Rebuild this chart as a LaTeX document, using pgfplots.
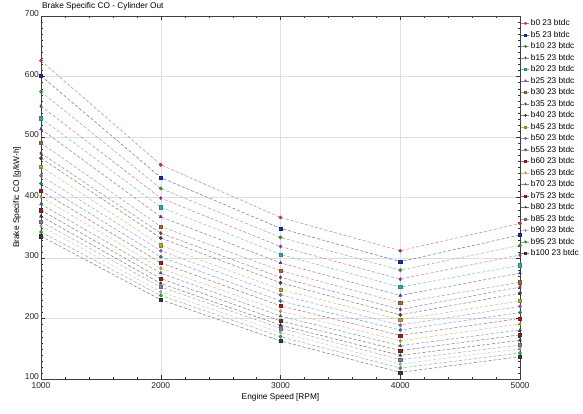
\documentclass[border=0pt]{standalone}
\usepackage{pgfplots}
\pgfplotsset{compat=1.18}
\usepackage{pgfplotstable}
\usepackage{fontspec}
\setmainfont{Liberation Sans}

% engine speed vs brake specific CO, one column per blend
\pgfplotstableread{
rpm  b0  b5  b10 b15 b20 b25 b30 b35 b40 b45 b50 b55 b60 b65 b70 b75 b80 b85 b90 b95 b100
1000 626 601 575 551 531 513 490 473 465 451 436 423 411 401 389 379 369 360 353 343 336
2000 454 433 415 399 384 368 352 341 333 321 312 302 292 283 275 266 258 252 244 238 231
3000 367 349 334 319 306 292 279 268 259 248 239 229 221 212 204 196 189 184 177 170 163
4000 312 294 280 265 252 238 226 215 206 198 189 181 172 163 155 147 139 132 125 118 111
5000 357 338 321 305 288 275 260 252 242 229 220 210 200 191 181 173 164 156 150 143 137
}\bsco

\definecolor{c0}{HTML}{C8403A}
\definecolor{c5}{HTML}{1F2A9C}
\definecolor{c10}{HTML}{3E9A3E}
\definecolor{c15}{HTML}{9A3C9A}
\definecolor{c20}{HTML}{3AA6A8}
\definecolor{c25}{HTML}{5E3590}
\definecolor{c30}{HTML}{9A6A44}
\definecolor{c35}{HTML}{963060}
\definecolor{c40}{HTML}{454545}
\definecolor{c45}{HTML}{A8A840}
\definecolor{c50}{HTML}{A064B8}
\definecolor{c55}{HTML}{2F8282}
\definecolor{c60}{HTML}{962030}
\definecolor{c65}{HTML}{C8A83A}
\definecolor{c70}{HTML}{3A6E96}
\definecolor{c75}{HTML}{7E2A22}
\definecolor{c80}{HTML}{2C3C50}
\definecolor{c85}{HTML}{808090}
\definecolor{c90}{HTML}{B0B0B0}
\definecolor{c95}{HTML}{38A838}
\definecolor{c100}{HTML}{3A3A3A}

\pgfplotsset{
  bser/.style 2 args={
    draw=#1!70, densely dashed, line width=0.5pt,
    mark=#2, mark size=1.6pt,
    mark options={solid, fill=#1, draw=#1!80!black}
  }
}

\begin{document}
\begin{tikzpicture}
\begin{axis}[
  scale only axis,
  width=479pt, height=363pt,
  xmin=1000, xmax=5000, ymin=100, ymax=700,
  xtick={1000,2000,3000,4000,5000},
  ytick={100,200,...,700},
  minor x tick num=4,
  minor y tick num=9,
  major tick length=4pt, minor tick length=2pt,
  tick style={gray!40!black},
  axis line style={gray!50!black},
  grid=major,
  grid style={gray!25, line width=0.5pt},
  /pgf/number format/assume math mode=true,
  /pgf/number format/1000 sep={},
  tick label style={font=\fontsize{8.5}{10}\selectfont, text=black!85},
  xticklabel style={yshift=-0.5pt},
  yticklabel style={xshift=1.5pt, yshift=2pt},
  xlabel={Engine Speed [RPM]},
  ylabel={Brake Specific CO [g/kW-h]},
  label style={font=\fontsize{8.3}{10}\selectfont},
  xlabel style={yshift=2pt},
  ylabel style={yshift=-3pt},
  title={Brake Specific CO - Cylinder Out},
  title style={font=\fontsize{8.3}{10}\selectfont, at={(0,1)}, anchor=south west, inner sep=1pt, yshift=-1pt},
  legend style={at={(1,1)}, anchor=north west, xshift=1pt, yshift=-2pt, draw=none, fill=none,
    font=\fontsize{8.3}{10}\selectfont, inner sep=0pt,
    nodes={inner sep=1.2pt, text height=6.5pt, text depth=1.5pt},
    row sep=1.1pt},
  legend cell align=left,
  legend image code/.code={
    \draw[#1, mark size=1.1pt, mark repeat=2, mark phase=2]
      plot coordinates {(0pt,0pt) (4pt,0pt) (8pt,0pt)};
  },
]
\addplot[bser={c0}{*}]              table[y=b0]   {\bsco}; \addlegendentry{b0 23 btdc}
\addplot[bser={c5}{square*}]        table[y=b5]   {\bsco}; \addlegendentry{b5 23 btdc}
\addplot[bser={c10}{*}]             table[y=b10]  {\bsco}; \addlegendentry{b10 23 btdc}
\addplot[bser={c15}{diamond*}]      table[y=b15]  {\bsco}; \addlegendentry{b15 23 btdc}
\addplot[bser={c20}{square*}]       table[y=b20]  {\bsco}; \addlegendentry{b20 23 btdc}
\addplot[bser={c25}{triangle*}]     table[y=b25]  {\bsco}; \addlegendentry{b25 23 btdc}
\addplot[bser={c30}{square*}]       table[y=b30]  {\bsco}; \addlegendentry{b30 23 btdc}
\addplot[bser={c35}{diamond*}]      table[y=b35]  {\bsco}; \addlegendentry{b35 23 btdc}
\addplot[bser={c40}{*}]             table[y=b40]  {\bsco}; \addlegendentry{b40 23 btdc}
\addplot[bser={c45}{square*}]       table[y=b45]  {\bsco}; \addlegendentry{b45 23 btdc}
\addplot[bser={c50}{*}]             table[y=b50]  {\bsco}; \addlegendentry{b50 23 btdc}
\addplot[bser={c55}{*}]             table[y=b55]  {\bsco}; \addlegendentry{b55 23 btdc}
\addplot[bser={c60}{square*}]       table[y=b60]  {\bsco}; \addlegendentry{b60 23 btdc}
\addplot[bser={c65}{diamond*}]      table[y=b65]  {\bsco}; \addlegendentry{b65 23 btdc}
\addplot[bser={c70}{triangle*}]     table[y=b70]  {\bsco}; \addlegendentry{b70 23 btdc}
\addplot[bser={c75}{square*}]       table[y=b75]  {\bsco}; \addlegendentry{b75 23 btdc}
\addplot[bser={c80}{triangle*}]     table[y=b80]  {\bsco}; \addlegendentry{b80 23 btdc}
\addplot[bser={c85}{square*}]       table[y=b85]  {\bsco}; \addlegendentry{b85 23 btdc}
\addplot[bser={c90}{diamond*}]      table[y=b90]  {\bsco}; \addlegendentry{b90 23 btdc}
\addplot[bser={c95}{*}]             table[y=b95]  {\bsco}; \addlegendentry{b95 23 btdc}
\addplot[bser={c100}{square*}]      table[y=b100] {\bsco}; \addlegendentry{b100 23 btdc}
\end{axis}
\pgfresetboundingbox
\useasboundingbox (-41pt,-34pt) rectangle (542pt,379pt);
\end{tikzpicture}
\end{document}
